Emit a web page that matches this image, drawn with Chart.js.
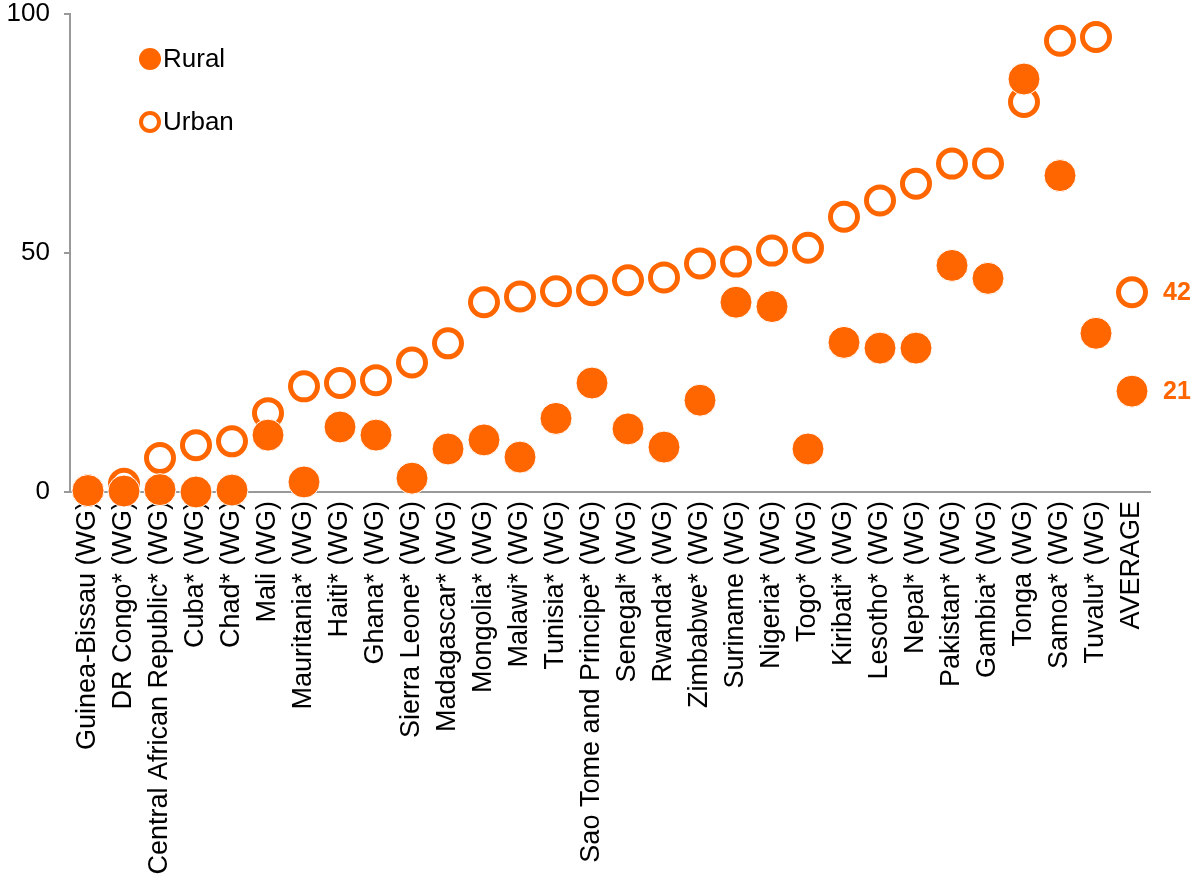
<!DOCTYPE html>
<html>
<head>
<meta charset="utf-8">
<script src="https://cdn.jsdelivr.net/npm/chart.js@4"></script>
<style>
  body { margin: 0; background: #fff; }
  #wrap { width: 1192px; height: 877px; }
</style>
</head>
<body>
<div id="wrap"><canvas id="myChart"></canvas></div>
<script>
// Categorias (eje X)
const countries = [
  "Guinea-Bissau (WG)", "DR Congo* (WG)", "Central African Republic* (WG)", "Cuba* (WG)",
  "Chad* (WG)", "Mali (WG)", "Mauritania* (WG)", "Haiti* (WG)", "Ghana* (WG)",
  "Sierra Leone* (WG)", "Madagascar* (WG)", "Mongolia* (WG)", "Malawi* (WG)",
  "Tunisia* (WG)", "Sao Tome and Principe* (WG)", "Senegal* (WG)", "Rwanda* (WG)",
  "Zimbabwe* (WG)", "Suriname (WG)", "Nigeria* (WG)", "Togo* (WG)", "Kiribati* (WG)",
  "Lesotho* (WG)", "Nepal* (WG)", "Pakistan* (WG)", "Gambia* (WG)", "Tonga (WG)",
  "Samoa* (WG)", "Tuvalu* (WG)", "AVERAGE"
];

// Valores
const rural = [0.3, 0.2, 0.5, 0, 0.4, 11.9, 2.1, 13.6, 11.9, 2.9, 9.0, 10.9, 7.3, 15.4, 22.8,
  13.2, 9.4, 19.2, 39.7, 38.8, 9.0, 31.3, 30.1, 30.1, 47.4, 44.7, 86.4, 66.2, 33.2, 21.1];
const urban = [0.3, 1.7, 7.1, 9.8, 10.6, 16.5, 22.1, 22.8, 23.4, 27.1, 31.1, 39.7, 40.9, 42.0,
  42.2, 44.3, 44.9, 47.8, 48.2, 50.5, 51.1, 57.6, 61.0, 64.5, 68.7, 68.7, 81.6, 94.4, 95.2, 41.8];

// Etiquetas de valor del promedio
const averageLabels = ["21", "42"];
const yTicks = [0, 50, 100];

const ORANGE = "#FF6600";
const FONT = "'Liberation Sans', Arial, sans-serif";

// Leyenda propia dentro del area del grafico
const legendPlugin = {
  id: "customLegend",
  afterDraw(chart) {
    const ctx = chart.ctx;
    ctx.save();
    ctx.font = "26px " + FONT;
    ctx.textBaseline = "middle";
    ctx.textAlign = "left";
    // Rural
    ctx.beginPath();
    ctx.arc(150, 59, 11, 0, Math.PI * 2);
    ctx.fillStyle = ORANGE;
    ctx.fill();
    ctx.fillStyle = "#000";
    ctx.fillText("Rural", 163, 60);
    // Urban
    ctx.beginPath();
    ctx.arc(150, 122, 9, 0, Math.PI * 2);
    ctx.lineWidth = 4;
    ctx.strokeStyle = ORANGE;
    ctx.stroke();
    ctx.fillText("Urban", 163, 123);
    ctx.restore();
  },
};

// Etiquetas de datos para el promedio
const avgLabelPlugin = {
  id: "avgLabels",
  afterDatasetsDraw(chart) {
    const ctx = chart.ctx;
    const last = countries.length - 1;
    ctx.save();
    ctx.font = "bold 25px " + FONT;
    ctx.fillStyle = ORANGE;
    ctx.textBaseline = "middle";
    ctx.textAlign = "left";
    [0, 1].forEach((i) => {
      const el = chart.getDatasetMeta(i).data[last];
      ctx.fillText(averageLabels[i], el.x + 31, el.y + 1);
    });
    ctx.restore();
  },
};

const ctx = document.getElementById("myChart").getContext("2d");
new Chart(ctx, {
  type: "line",
  data: {
    labels: countries,
    datasets: [
      {
        label: "Rural",
        data: rural,
        showLine: false,
        clip: false,
        pointRadius: 16,
        pointHoverRadius: 16,
        pointBackgroundColor: ORANGE,
        pointBorderColor: "#fff",
        pointBorderWidth: 1,
      },
      {
        label: "Urban",
        data: urban,
        showLine: false,
        clip: false,
        pointRadius: 13.5,
        pointHoverRadius: 13.5,
        pointBackgroundColor: "#fff",
        pointBorderColor: ORANGE,
        pointBorderWidth: 5,
      },
    ],
  },
  options: {
    responsive: true,
    maintainAspectRatio: false,
    animation: false,
    layout: { autoPadding: false, padding: { top: 14, right: 42, left: 0, bottom: 0 } },
    plugins: {
      legend: { display: false },
      tooltip: { enabled: false },
    },
    scales: {
      x: {
        offset: true,
        grid: { drawOnChartArea: false, drawTicks: false },
        border: { color: "#999", width: 2 },
        ticks: {
          autoSkip: false,
          maxRotation: 90,
          minRotation: 90,
          padding: 9,
          color: "#000",
          font: { family: FONT, size: 27 },
        },
        afterFit(scale) {
          scale.height = 385;
          scale.paddingLeft = 0;
          scale.paddingRight = 0;
        },
      },
      y: {
        min: 0,
        max: 100,
        afterBuildTicks(scale) {
          scale.ticks = yTicks.map((v) => ({ value: v }));
        },
        grid: { drawOnChartArea: false, drawTicks: true, tickLength: 6, color: "#999", lineWidth: 2 },
        border: { color: "#999", width: 2 },
        ticks: {
          padding: 14,
          color: "#000",
          font: { family: FONT, size: 26 },
        },
        afterFit(scale) {
          scale.width = 70;
          scale.paddingTop = 0;
          scale.paddingBottom = 0;
        },
      },
    },
  },
  plugins: [legendPlugin, avgLabelPlugin],
});
</script>
</body>
</html>
